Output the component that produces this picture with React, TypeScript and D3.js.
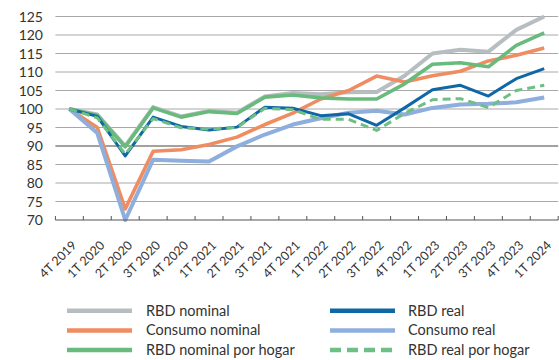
import React from "react";
import * as d3 from "d3";

// Quarters on the x axis
const quarters = [
  "4T 2019", "1T 2020", "2T 2020", "3T 2020", "4T 2020", "1T 2021",
  "2T 2021", "3T 2021", "4T 2021", "1T 2022", "2T 2022", "3T 2022",
  "4T 2022", "1T 2023", "2T 2023", "3T 2023", "4T 2023", "1T 2024",
];

// Index, 4T 2019 = 100
const rbdNominal = [100, 98.5, 90, 100.5, 98, 99.5, 99, 103.4, 104.3, 104, 104.5, 104.6, 109, 115, 116, 115.5, 121.4, 125];
const rbdNominalHogar = [100, 98.3, 89.8, 100.3, 97.8, 99.3, 98.8, 103.2, 103.8, 103, 102.7, 102.7, 106.8, 112.1, 112.5, 111.4, 117.2, 120.6];
const consumoNominal = [100, 95, 73, 88.6, 89, 90.4, 92.4, 95.8, 98.9, 102.7, 105, 108.9, 107.3, 109, 110.2, 113, 114.5, 116.5];
const consumoReal = [100, 93.5, 70, 86.3, 86, 85.8, 89.9, 93.1, 95.8, 97.5, 99, 99.5, 98.5, 100.3, 101.2, 101.4, 101.8, 103.1];
const rbdReal = [100, 98, 87.3, 97.8, 95.3, 94.3, 95.1, 100.5, 100.2, 98.2, 98.7, 95.6, 100.3, 105.2, 106.4, 103.5, 108.2, 110.9];
const rbdRealHogar = [100, 97.6, 87.8, 97.4, 94.9, 94.6, 95, 100.2, 99.8, 97.2, 97.2, 94.2, 98.8, 102.5, 102.8, 100.4, 105, 106.4];

const yTicks = [70, 75, 80, 85, 90, 95, 100, 105, 110, 115, 120, 125];

type Series = { name: string; values: number[]; color: string; width: number; dash?: string };

// Drawing order (later on top)
const series: Series[] = [
  { name: "RBD nominal", values: rbdNominal, color: "#b7bec1", width: 4 },
  { name: "Consumo nominal", values: consumoNominal, color: "#ef8c62", width: 3.6 },
  { name: "Consumo real", values: consumoReal, color: "#8eaedd", width: 4 },
  { name: "RBD nominal por hogar", values: rbdNominalHogar, color: "#69bb7d", width: 3.6 },
  { name: "RBD real", values: rbdReal, color: "#0f67a6", width: 3 },
  { name: "RBD real por hogar", values: rbdRealHogar, color: "#6dbf84", width: 3, dash: "8,5" },
];

const legendLeft = ["RBD nominal", "Consumo nominal", "RBD nominal por hogar"];
const legendRight = ["RBD real", "Consumo real", "RBD real por hogar"];

const W = 559;
const H = 360;
const plot = { left: 55.4, right: 558.2, top: 16.5, bottom: 220 };
const FONT = "Lato, 'Open Sans', sans-serif";

export default function App() {
  const x = d3.scaleBand<string>().domain(quarters).range([plot.left, plot.right]);
  const y = d3.scaleLinear().domain([70, 125]).range([plot.bottom, plot.top]);
  const cx = (i: number) => (x(quarters[i]) as number) + x.bandwidth() / 2;
  const line = d3
    .line<number>()
    .x((_, i) => cx(i))
    .y((v) => y(v));

  const byName = (n: string) => series.find((s) => s.name === n) as Series;

  const legendRow = (names: string[], sx: number, tx: number) =>
    names.map((n, k) => {
      const s = byName(n);
      const ly = 310.7 + k * 19.7;
      return (
        <g key={n}>
          <line
            x1={sx}
            x2={sx + 65}
            y1={ly}
            y2={ly}
            stroke={s.color}
            strokeWidth={4.5}
            strokeDasharray={s.dash ? "11,6" : undefined}
          />
          <text x={tx} y={ly + 5} fontSize={14.5} fill="#333" fontFamily={FONT}>
            {n}
          </text>
        </g>
      );
    });

  return (
    <svg
      width={W}
      height={H}
      style={{ position: "absolute", left: 0, top: 0, background: "#fff" }}
    >
      {/* horizontal grid */}
      {yTicks.map((t) => (
        <g key={t}>
          {t !== 70 && (
            <line
              x1={plot.left}
              x2={plot.right}
              y1={y(t)}
              y2={y(t)}
              stroke={t === 90 ? "#444" : "#a8a8a8"}
              strokeWidth={1}
            />
          )}
          <text
            x={43}
            y={y(t) + 5}
            textAnchor="end"
            fontSize={14}
            fill="#333"
            fontFamily={FONT}
          >
            {t}
          </text>
        </g>
      ))}

      {/* series */}
      {series.map((s) => (
        <path
          key={s.name}
          d={line(s.values) as string}
          fill="none"
          stroke={s.color}
          strokeWidth={s.width}
          strokeDasharray={s.dash}
          strokeLinejoin="round"
        />
      ))}

      {/* x axis */}
      <line x1={plot.left} x2={plot.right} y1={plot.bottom} y2={plot.bottom} stroke="#555" strokeWidth={1.2} />
      {quarters.map((q) => (
        <line
          key={"t" + q}
          x1={x(q) as number}
          x2={x(q) as number}
          y1={plot.bottom}
          y2={plot.bottom - 4}
          stroke="#555"
          strokeWidth={1}
        />
      ))}
      <line x1={plot.right} x2={plot.right} y1={plot.bottom} y2={plot.bottom - 4} stroke="#555" />
      {quarters.map((q, i) => (
        <text
          key={"l" + q}
          transform={`translate(${cx(i) + 8},${246}) rotate(-45)`}
          textAnchor="end"
          fontSize={12.5}
          fill="#333"
          fontFamily={FONT}
        >
          {q}
        </text>
      ))}

      {/* legend */}
      {legendRow(legendLeft, 67, 146)}
      {legendRow(legendRight, 330, 408)}
    </svg>
  );
}
